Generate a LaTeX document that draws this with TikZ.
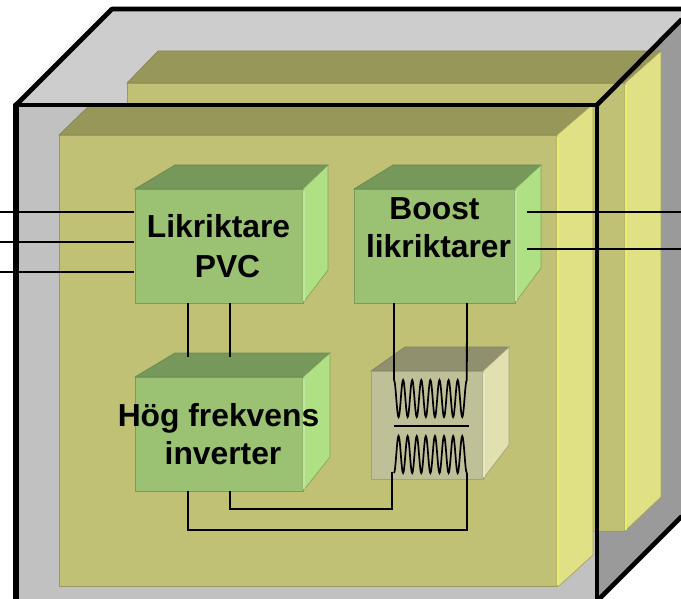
\documentclass[tikz,border=0pt]{standalone}
\usepackage{fontspec}
\setmainfont{Liberation Sans}
\definecolor{frontbox}{HTML}{C1C1C1}
\definecolor{topbox}{HTML}{CDCDCD}
\definecolor{sidebox}{HTML}{9A9A9A}
\definecolor{frontcard}{HTML}{C1C175}
\definecolor{topcard}{HTML}{97975A}
\definecolor{sidecard}{HTML}{E0E084}
\definecolor{frontgreen}{HTML}{9BC173}
\definecolor{topgreen}{HTML}{76985A}
\definecolor{sidegreen}{HTML}{B0E084}
\definecolor{fronttrafo}{HTML}{BFBF98}
\definecolor{toptrafo}{HTML}{90906F}
\definecolor{sidetrafo}{HTML}{E0E0B0}
\tikzset{
	wire/.style={black,line width=1.8},
	coil/.style={black,line width=1.7},
	wall/.style={black,line width=4.6,line cap=round,line join=round},
	card/.style={fill=frontcard,draw=frontcard!80!black,line width=0.7},
	cardtop/.style={fill=topcard,draw=topcard!90!black,line width=0.7},
	cardside/.style={fill=sidecard,draw=frontcard!85!black,line width=0.7},
	cardedge/.style={sidecard!70!yellow!90!white,line width=2},
	green/.style={fill=frontgreen,draw=frontgreen!80!black,line width=0.7},
	greentop/.style={fill=topgreen,draw=topgreen!90!black,line width=0.7},
	greenside/.style={fill=sidegreen,draw=frontgreen!85!black,line width=0.7},
	greenedge/.style={sidegreen!80!white,line width=2},
	trafo/.style={fill=fronttrafo,draw=fronttrafo!85!black,line width=0.7},
	trafotop/.style={fill=toptrafo,draw=toptrafo!90!black,line width=0.7},
	trafoside/.style={fill=sidetrafo,draw=fronttrafo!85!black,line width=0.7},
	trafoedge/.style={sidetrafo!80!white,line width=2},
	label/.style={font=\fontsize{31.8}{36}\selectfont\bfseries,anchor=base,inner sep=0}
}
\begin{document}
\begin{tikzpicture}[x=1pt,y=-1pt]
	\clip (0,0) rectangle (681,599);
	% Housing
	\fill [topbox] (16,105) -- (112,9) -- (681,9) -- (681,20) -- (597,105) -- cycle;
	\fill [sidebox] (597,105) -- (681,20) -- (681,517) -- (597,601) -- cycle;
	\fill [frontbox] (16,105) rectangle (597,599);
	% Rear card
	\draw [cardtop] (127,83) -- (158,51) -- (661,51) -- (625,83) -- cycle;
	\draw [card] (127,83) rectangle (625,531);
	\draw [cardside] (625,83) -- (661,51) -- (661,497) -- (625,531) -- cycle;
	\draw [cardedge] (626,85) -- (626,530);
	% Front card
	\draw [cardtop] (59,135) -- (91,104) -- (593,104) -- (557,135) -- cycle;
	\draw [card] (59,135) rectangle (557,586);
	\draw [cardside] (557,135) -- (593,104) -- (593,555) -- (559,586) -- (557,586) -- cycle;
	\draw [cardedge] (558,137) -- (558,585);
	% Housing edges
	\draw [wall,line width=5.6] (16,599) -- (16,105);
	\draw [wall] (16,105) -- (112,9) -- (681,9);
	\draw [wall] (16,105) -- (597,105) -- (597,599);
	\draw [wall] (597,105) -- (681,20);
	\draw [wall] (597,601) -- (681,517);
	% Rectifier
	\draw [greentop] (135,189) -- (175,165) -- (328,165) -- (303,189) -- cycle;
	\draw [green] (135,189) rectangle (303,303);
	\draw [greenside] (303,189) -- (328,165) -- (328,270) -- (303,303) -- cycle;
	\draw [greenedge] (304,191) -- (304,301);
	% Boost
	\draw [greentop] (354,189) -- (393,165) -- (541,165) -- (515,189) -- cycle;
	\draw [green] (354,189) rectangle (515,303);
	\draw [greenside] (515,189) -- (541,165) -- (541,268) -- (515,303) -- cycle;
	\draw [greenedge] (516,191) -- (516,301);
	% Inverter
	\draw [greentop] (135,377) -- (175,353) -- (330,353) -- (303,377) -- cycle;
	\draw [green] (135,377) rectangle (303,491);
	\draw [greenside] (303,377) -- (330,353) -- (330,457) -- (303,491) -- cycle;
	\draw [greenedge] (304,379) -- (304,489);
	% Transformer
	\draw [trafotop] (371,371) -- (405,347) -- (509,347) -- (483,371) -- cycle;
	\draw [trafo] (371,371) rectangle (483,479);
	\draw [trafoside] (483,371) -- (509,347) -- (509,445) -- (483,479) -- cycle;
	\draw [trafoedge] (484,373) -- (484,477);
	% Labels
	\node [label] (pvctext) at (218.5,238) {Likriktare};
	\node [label] (pvctextb) at (227.5,277) {PVC};
	\node [label] (boosttext) at (434.5,220) {Boost};
	\node [label] (boosttextb) at (438.5,258) {likriktarer};
	\node [label] (invtext) at (218.5,426) {Hög frekvens};
	\node [label] (invtextb) at (223,464) {inverter};
	% Wire ends
	\coordinate (ina) at (0,212);\coordinate (pvca) at (134,212);
	\coordinate (inb) at (0,242);\coordinate (pvcb) at (134,242);
	\coordinate (inc) at (0,272);\coordinate (pvcc) at (134,272);
	\coordinate (outa) at (681,212);\coordinate (boosta) at (527,212);
	\coordinate (outb) at (681,249);\coordinate (boostb) at (527,249);
	\coordinate (pvcd) at (188,303);\coordinate (inva) at (188,357);
	\coordinate (pvce) at (230,303);\coordinate (invb) at (230,357);
	\coordinate (boostc) at (394,303);\coordinate (coila) at (394,380);
	\coordinate (boostd) at (467,303);\coordinate (coilb) at (466.8,380);
	\coordinate (invc) at (188,491);\coordinate (coilc) at (467,473);
	\coordinate (invd) at (230,491);\coordinate (coild) at (392,472);
	% Wires
	\draw [wire] (ina) -- (pvca);
	\draw [wire] (inb) -- (pvcb);
	\draw [wire] (inc) -- (pvcc);
	\draw [wire] (boosta) -- (outa);
	\draw [wire] (boostb) -- (outb);
	\draw [wire] (pvcd) -- (inva);
	\draw [wire] (pvce) -- (invb);
	\draw [wire] (boostc) -- (coila);
	\draw [wire] (boostd) -- (coilb);
	\draw [wire] (invc) -- ++(0,39) -| (coilc);
	\draw [wire] (invd) -- ++(0,18) -| (coild);
	% Coils
	\draw [coil] plot [smooth,domain=0:8,samples=97] ({394+9.1*\x},{398.5-18.5*cos(360*\x)});
	\draw [coil] plot [smooth,domain=0:8,samples=97] ({394+9.1*\x},{454.5+18.5*cos(360*\x)});
	\coordinate (bara) at (394,426);\coordinate (barb) at (469,426);
	\draw [wire] (bara) -- (barb);
\end{tikzpicture}
\end{document}
